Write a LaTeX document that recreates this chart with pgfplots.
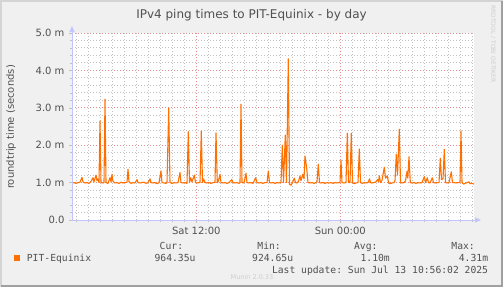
\documentclass[border=0pt]{standalone}
\usepackage{fontspec}
\setmainfont{DejaVu Sans}
\setmonofont{DejaVu Sans Mono}
\usepackage{pgfplots}
\pgfplotsset{compat=1.18}
\usepackage{pgfplotstable}
\usetikzlibrary{arrows.meta}
\definecolor{bg}{RGB}{240,240,240}
\definecolor{txt}{RGB}{80,80,80}
\definecolor{ping}{RGB}{255,112,0}
\definecolor{mgrid}{RGB}{232,140,140}
\definecolor{ngrid}{RGB}{192,192,192}
\definecolor{axc}{RGB}{196,196,255}
\definecolor{faint}{RGB}{205,205,205}
\definecolor{frlight}{RGB}{212,212,212}
\definecolor{frdark}{RGB}{160,160,160}

% x = time in 5-minute steps (pixel columns), y = roundtrip time in ms
\pgfplotstableread{
x y
72 0.99
74 1.00
76 0.98
78 1.00
80 1.01
82 1.14
83 1.02
85 0.99
87 1.00
89 0.98
91 1.03
93 1.13
94 1.02
96 1.20
97 1.05
98 1.10
99 1.00
100 2.65
101 1.00
103 0.99
104 1.00
105 3.23
106 1.00
108 0.98
110 1.13
111 1.02
112 1.22
113 1.03
115 0.99
117 1.00
119 0.98
121 1.01
123 0.99
125 1.00
127 1.01
128 1.36
129 1.02
131 0.98
133 1.00
135 0.99
137 1.08
138 1.00
140 0.99
142 1.00
144 1.01
146 0.98
148 1.00
150 1.10
151 1.00
153 0.99
155 1.00
157 0.97
159 1.00
161 1.31
162 1.00
164 0.99
166 0.98
167 1.00
168.7 2.99
170 1.00
172 0.98
174 1.00
176 0.99
178 1.00
180 1.27
181 1.00
183 0.99
185 1.00
187 0.98
188.3 2.36
189.5 1.00
190.7 1.13
192 1.02
194.3 1.20
195.5 1.00
197 0.99
199 1.00
200 1.00
201.3 2.38
202.5 1.00
203.5 1.10
205 1.00
207 0.99
209 1.00
211 0.98
213 1.00
215 1.00
216 2.33
217.3 1.00
218.5 1.05
220 1.22
221 1.00
223 0.99
225 1.00
227 0.98
229 1.00
231.7 1.08
233 1.00
235 0.99
237 1.00
239 0.98
240 1.00
241 3.10
242 1.00
244 0.99
246 1.25
247 1.00
249 0.99
251 1.00
253 0.98
255.7 1.13
257 1.00
259 0.99
261 1.00
263 0.98
265 1.00
267 1.00
268.3 1.31
269.5 1.00
271 0.99
273 1.00
275 0.98
277 1.00
279 0.99
281 1.00
282.3 2.00
283.5 1.00
285.3 2.27
286.5 1.00
288.3 4.31
289.5 0.95
291 0.93
292.5 1.00
294.3 1.12
295.5 1.00
297 0.99
298.5 1.03
300 1.18
301 1.05
302.7 1.22
304 1.10
305 1.71
306.7 1.38
308 1.00
310 0.99
312 1.00
314 0.98
316 1.00
317 1.02
318.3 1.49
319.5 1.00
321 0.99
323 1.00
325 0.98
327 1.00
329 0.99
331 1.00
333 0.98
335 1.00
337 0.99
339 1.00
340 1.00
341 1.60
342 1.00
344 0.99
346 1.00
347.3 2.32
348.5 1.00
350 1.00
351.3 2.32
352.5 1.00
354 0.97
356 0.99
358 1.00
359.3 1.90
360.5 1.00
362 0.98
364 1.00
366 0.99
368 1.00
369.5 1.10
370.5 1.00
372 0.99
374 1.00
376 1.02
377.5 1.08
378.5 1.03
379.3 1.18
380.5 1.00
382 1.06
384.3 1.41
385.5 1.12
387.3 1.18
388.5 1.00
390 0.97
392 0.99
394 1.00
395 1.05
396.3 1.76
397.5 1.20
399.3 2.43
400.5 1.00
402 0.99
404 1.00
405.5 1.05
407 1.30
407.8 1.12
409 1.69
410.3 1.00
412 0.99
414 1.00
416 0.98
418 1.00
420 0.99
422 1.00
424.3 1.16
425.5 1.00
427.3 1.13
428.5 1.00
430 0.99
432.3 1.13
433.5 1.00
435 0.99
437 1.00
439 1.00
440.3 1.65
441.5 1.08
443 1.10
444.3 1.89
445.5 1.00
447 0.99
449 1.00
451.3 1.29
452.5 1.00
454 1.00
456 0.99
458 1.00
460 1.00
461 2.38
462 1.00
463.7 0.96
465 0.98
467 1.00
469 1.02
470 0.97
472 0.98
474 0.96
}\pingdata

\begin{document}
\begin{tikzpicture}
% background and frame
\fill[bg] (0pt,0pt) rectangle (503pt,-287pt);
\useasboundingbox (0pt,0pt) rectangle (503pt,-287pt);
\draw[frlight, line width=1.5pt] (0.75pt,-287pt) -- (0.75pt,-0.75pt) -- (503pt,-0.75pt);
\draw[frdark, line width=2pt] (1pt,-286pt) -- (502pt,-286pt) -- (502pt,-1pt);

\begin{axis}[
  at={(72pt,-220pt)}, anchor=south west,
  scale only axis, width=402pt, height=187pt,
  xmin=72, xmax=474, ymin=0, ymax=5,
  axis line style={draw=none},
  axis background/.style={fill=white},
  xtick={196.3,340.3},
  xticklabels={Sat 12:00,Sun 00:00},
  minor xtick={76.3,88.3,...,472.4},
  ytick={0,1,2,3,4,5},
  yticklabels={0.0\hspace{5.5pt},1.0 m,2.0 m,3.0 m,4.0 m,5.0 m},
  minor y tick num=4,
  grid=both,
  major grid style={draw=mgrid, line width=1pt, dash pattern=on 1pt off 2pt},
  minor grid style={draw=ngrid, line width=1pt, dash pattern=on 1pt off 2pt},
  tick pos=left, tick align=outside,
  major tick length=3pt, minor tick length=2pt,
  tick style={draw=ngrid, solid, line width=0.6pt},
  ticklabel style={font=\fontsize{10pt}{12pt}\selectfont, text=txt},
  xticklabel style={yshift=-1pt},
  yticklabel style={xshift=-1pt},
  clip=true,
]
\addplot[ping, line width=1.1pt, line join=round] table[x=x,y=y] {\pingdata};
\end{axis}

% axes with arrows
\draw[axc, line width=0.8pt, -{Triangle[width=5pt,length=6pt]}] (71pt,-220pt) -- (481pt,-220pt);
\draw[axc, line width=0.8pt, -{Triangle[width=5pt,length=6pt]}] (72pt,-221pt) -- (72pt,-26pt);

% title
\node[anchor=base, inner sep=0pt, text=txt, font=\fontsize{12pt}{14pt}\selectfont] at (251.5pt,-18.3pt) {IPv4 ping times to PIT-Equinix - by day};
% y label
\node[rotate=90, inner sep=0pt, text=txt, font=\fontsize{10pt}{12pt}\selectfont] at (11pt,-127pt) {roundtrip time (seconds)};
% watermark
\node[rotate=-90, anchor=west, inner sep=0pt, text=faint, font=\fontsize{6pt}{7pt}\selectfont] at (493pt,-5pt) {RRDTOOL / TOBI OETIKER};

% legend
\fill[ping] (14pt,-255pt) rectangle (20pt,-261pt);
\begin{scope}[every node/.style={inner sep=0pt, text=txt, font=\ttfamily\fontsize{9.7pt}{11pt}\selectfont}]
\node[anchor=base east] at (183.3pt,-249.3pt) {Cur:};
\node[anchor=base east] at (281pt,-249.3pt) {Min:};
\node[anchor=base east] at (377.7pt,-249.3pt) {Avg:};
\node[anchor=base east] at (475pt,-249.3pt) {Max:};
\node[anchor=base west] at (26.7pt,-261.5pt) {PIT-Equinix};
\node[anchor=base east] at (195.7pt,-261.5pt) {964.35u};
\node[anchor=base east] at (293.3pt,-261.5pt) {924.65u};
\node[anchor=base east] at (390pt,-261.5pt) {1.10m};
\node[anchor=base east] at (488.3pt,-261.5pt) {4.31m};
\node[anchor=base east] at (488.3pt,-273.3pt) {Last update: Sun Jul 13 10:56:02 2025};
\end{scope}
\node[anchor=base, inner sep=0pt, text=faint, font=\fontsize{6.5pt}{7pt}\selectfont] at (252pt,-279pt) {Munin 2.0.33};
\end{tikzpicture}
\end{document}
